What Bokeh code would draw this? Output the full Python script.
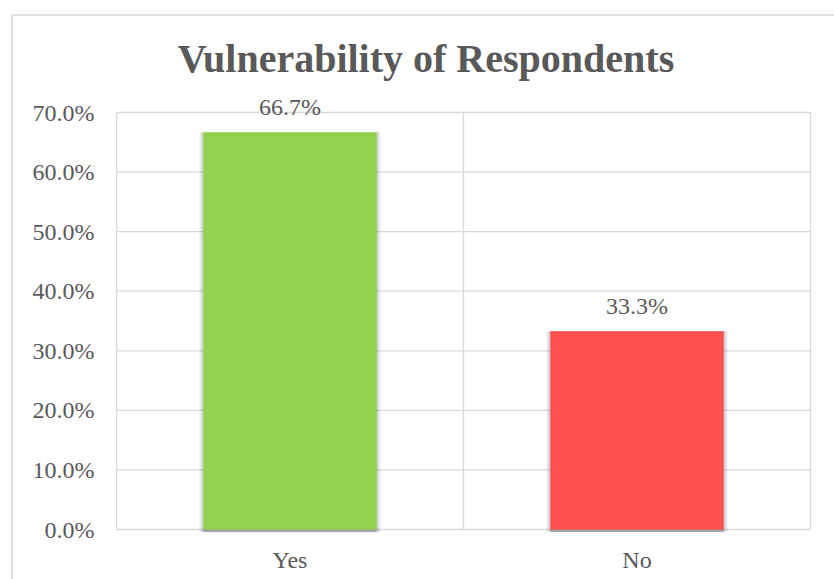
from bokeh.plotting import figure
from bokeh.models import Range1d, FixedTicker, Label, LabelSet, ColumnDataSource, PrintfTickFormatter
from bokeh.embed import file_html
from bokeh.resources import INLINE

# ---- data ----
title_text = "Vulnerability of Respondents"
categories = ["Yes", "No"]
percentages = [66.7, 33.3]
bar_colors = ["#92D050", "#FF5050"]
y_ticks = [0, 10, 20, 30, 40, 50, 60, 70]

FONT = "Liberation Serif"
TXT = "#595959"
GRID = "#D9D9D9"
W, H = 834, 579
# plot-area position in screen pixels
PL, PR, PT, PB = 116, 810, 112, 529

n = len(categories)
ymax = y_ticks[-1]
sx_per = (PR - PL) / n
sy_per = (PB - PT) / ymax
def dx(sx):
    return (sx - PL) / sx_per
def dy(sy):
    return (PB - sy) / sy_per

xs = [i + 0.5 for i in range(n)]
src = ColumnDataSource(dict(
    x=xs, top=percentages, color=bar_colors,
    label=[f"{v:.1f}%" for v in percentages],
))

p = figure(width=W, height=H, output_backend="svg", toolbar_location=None,
           x_range=Range1d(dx(0), dx(W)), y_range=Range1d(dy(H), dy(0)),
           min_border=0)
p.background_fill_color = "white"
p.border_fill_color = "white"
p.outline_line_color = None
p.xgrid.visible = False
p.ygrid.visible = False

# outer chart-area border (top and left edges visible)
p.segment(x0=[dx(11.5), dx(11.5)], x1=[dx(W + 20), dx(11.5)],
          y0=[dy(14.5), dy(14.5)], y1=[dy(14.5), dy(H + 20)],
          line_color="#D6D6D6", line_width=1.5)

# plot-area grid lines (horizontal at ticks, vertical at category boundaries)
p.segment(x0=0, x1=n, y0=y_ticks, y1=y_ticks, line_color=GRID, line_width=1.3)
bounds = list(range(n + 1))
p.segment(x0=bounds, x1=bounds, y0=0, y1=ymax, line_color=GRID, line_width=1.3)

# axes fixed at the plot-area edges
p.yaxis.fixed_location = 0
p.xaxis.fixed_location = 0
p.yaxis.ticker = FixedTicker(ticks=y_ticks)
p.yaxis.formatter = PrintfTickFormatter(format="%.1f%%")
p.xaxis.ticker = FixedTicker(ticks=xs)
p.xaxis.major_label_overrides = {x: c for x, c in zip(xs, categories)}
for ax in (p.xaxis[0], p.yaxis[0]):
    ax.axis_line_color = None
    ax.major_tick_line_color = None
    ax.minor_tick_line_color = None
    ax.major_tick_out = 0
    ax.major_tick_in = 0
    ax.major_label_text_font = FONT
    ax.major_label_text_font_size = "24px"
    ax.major_label_text_color = TXT
p.yaxis.major_label_standoff = 22
p.xaxis.major_label_standoff = 17

# bar shadow (soft sides, darker edge below)
px = 1 / sx_per
py = 1 / sy_per
for k in range(1, 5):
    p.vbar(x="x", top="top", bottom=-k * py * 0.8, width=0.5 + 2 * k * px, source=src,
           fill_color="black", fill_alpha=0.05, line_color=None)
p.vbar(x="x", top=0, bottom=-2.5 * py, width=0.5, source=src,
       fill_color="#808080", fill_alpha=0.6, line_color=None)

p.vbar(x="x", top="top", bottom=0, width=0.5, source=src,
       fill_color="color", line_color=None)

p.add_layout(LabelSet(x="x", y="top", text="label", source=src, text_align="center",
                      text_baseline="bottom", y_offset=12, text_font=FONT,
                      text_font_size="24px", text_color=TXT))

# title
p.add_layout(Label(x=dx(425.5), y=dy(58), text=title_text,
                   text_font=FONT, text_font_style="bold", text_font_size="40px",
                   text_color=TXT, text_align="center", text_baseline="alphabetic"))

open("out.html", "w").write(file_html(p, INLINE))
